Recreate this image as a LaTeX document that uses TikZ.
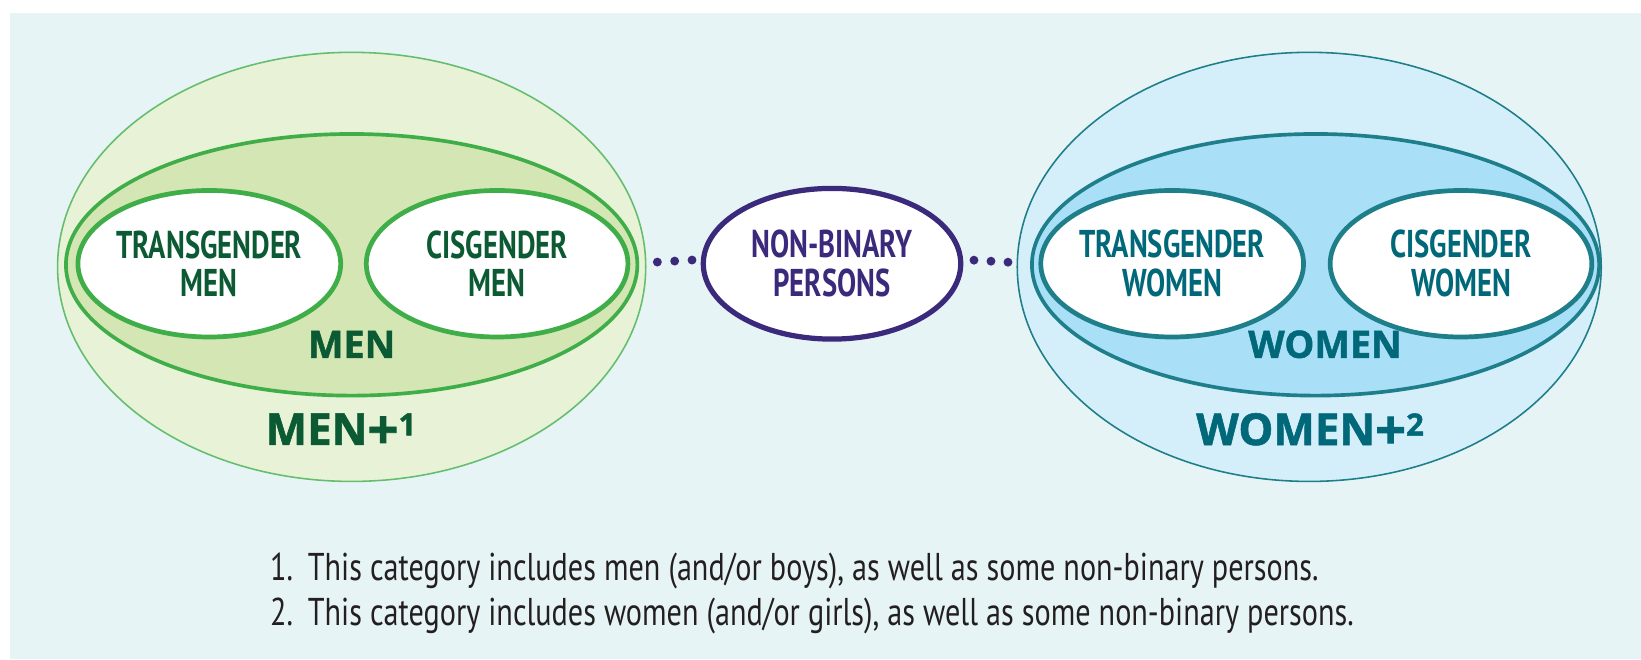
\documentclass[tikz,border=0pt]{standalone}
\usepackage{fontspec}
\setmainfont{PT Sans}
\newfontfamily\narrowfont{PT Sans}[FakeStretch=0.74]
\newfontfamily\notefont{PT Sans}[FakeStretch=0.78]
\newfontfamily\heavyfont{Open Sans}[FakeBold=1.3]
\usetikzlibrary{shapes.geometric}
\definecolor{bgcyan}{HTML}{E6F4F5}
\definecolor{mpfill}{HTML}{E8F2D7}
\definecolor{mfill}{HTML}{D3E6B4}
\definecolor{mline}{HTML}{3FAE49}
\definecolor{mtext}{HTML}{0B5A33}
\definecolor{wpfill}{HTML}{D4EFFA}
\definecolor{wfill}{HTML}{A9E0F8}
\definecolor{wline}{HTML}{1E7F8A}
\definecolor{wtext}{HTML}{006878}
\definecolor{nbline}{HTML}{3B2A7C}
\definecolor{notetext}{HTML}{231F20}
\newcommand{\bigplus}{\raisebox{-4pt}{\fontsize{52}{52}\selectfont+}}
\begin{document}
\begin{tikzpicture}[x=1pt, y=-1pt,
	oval/.style={draw, ellipse, inner sep=0pt},
	outer/.style={oval, line width=1.5pt, minimum width=562pt, minimum height=410pt},
	group/.style={oval, line width=3.5pt, minimum width=546pt, minimum height=250pt},
	cell/.style={oval, fill=white, line width=4.5pt, minimum width=250pt, minimum height=140pt,
		align=center, font=\narrowfont\bfseries\fontsize{37}{37}\selectfont},
	grouplbl/.style={font=\heavyfont\bfseries\fontsize{36}{36}\selectfont},
	pluslbl/.style={font=\heavyfont\bfseries\fontsize{42}{42}\selectfont},
	dot/.style={circle, fill=nbline, inner sep=0pt, minimum size=8.5pt},
	note/.style={anchor=base west, text=notetext, inner sep=0pt,
		font=\notefont\fontsize{37}{37}\selectfont}]
	\useasboundingbox (0,0) rectangle (1568,630);
	\fill[bgcyan] (9.5,12.4) rectangle (1568,630);

	\node[outer, draw=mline!80, fill=mpfill] (menplus) at (336,255) {};
	\node[group, draw=mline, fill=mfill] (men) at (336,253) {};
	\node[cell, draw=mline, text=mtext] (transmen) at (200,252) {TRANSGENDER\\MEN};
	\node[cell, draw=mline, text=mtext] (cismen) at (475,252) {CISGENDER\\MEN};
	\node[grouplbl, text=mtext] (menlbl) at (336,329) {MEN};
	\node[pluslbl, text=mtext] (menpluslbl) at (326,412) {MEN\bigplus\textsuperscript{1}};

	\node[outer, draw=wline, fill=wpfill, minimum width=558pt] (womenplus) at (1251,255) {};
	\node[group, draw=wline, fill=wfill, minimum width=542pt] (women) at (1257,253) {};
	\node[cell, draw=wline, text=wtext] (transwomen) at (1120,252) {TRANSGENDER\\WOMEN};
	\node[cell, draw=wline, text=wtext] (ciswomen) at (1396,252) {CISGENDER\\WOMEN};
	\node[grouplbl, text=wtext] (womenlbl) at (1266,329) {WOMEN};
	\node[pluslbl, text=wtext] (womenpluslbl) at (1252,412) {WOMEN\bigplus\textsuperscript{2}};

	\node[cell, draw=nbline, text=nbline, line width=5pt, minimum width=246pt, minimum height=144pt] (nonbin) at (795,252) {NON-BINARY\\PERSONS};

	\foreach \p in {0.2,0.52,0.84} {
		\path (menplus.east) -- (nonbin.west) node[dot, pos=\p, yshift=4pt] {};
		\path (nonbin.east) -- (womenplus.west) node[dot, pos=\p, yshift=4pt] {};
	}

	\node[note] (note1) at (258,555) {\makebox[36pt][l]{1.}This category includes men (and/or boys), as well as some non-binary persons.};
	\node[note] (note2) at (258,598) {\makebox[36pt][l]{2.}This category includes women (and/or girls), as well as some non-binary persons.};
\end{tikzpicture}
\end{document}
